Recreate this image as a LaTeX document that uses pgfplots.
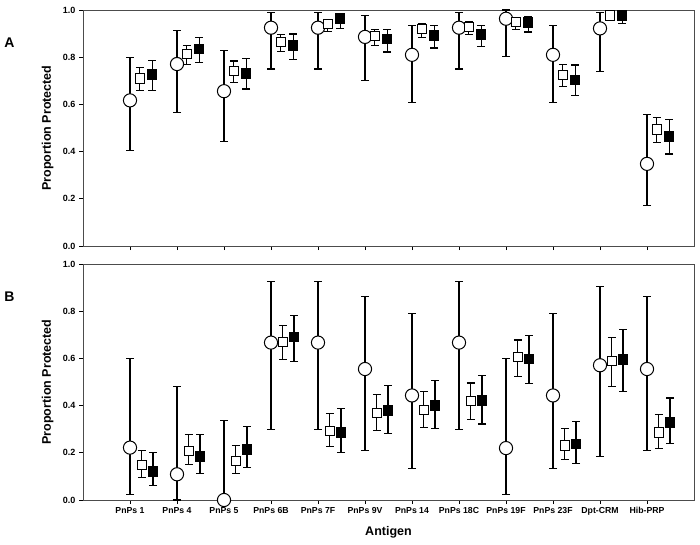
\documentclass[border=0pt]{standalone}
\usepackage{fontspec}
\setmainfont{Liberation Sans}
\usepackage{pgfplots}
\usepackage{pgfplotstable}
\pgfplotsset{compat=1.18}

% columns: i = category index, y = proportion, hi/lo = interval ends
\pgfplotstableread{
i y hi lo
0 0.617 0.799 0.406
1 0.771 0.912 0.564
2 0.656 0.829 0.443
3 0.925 0.991 0.750
4 0.925 0.991 0.750
5 0.886 0.976 0.700
6 0.810 0.936 0.607
7 0.925 0.991 0.750
8 0.963 1.000 0.803
9 0.810 0.936 0.607
10 0.922 0.991 0.741
11 0.348 0.557 0.173
}\Acirc
\pgfplotstableread{
i y hi lo
0 0.710 0.755 0.658
1 0.812 0.850 0.768
2 0.743 0.784 0.693
3 0.864 0.897 0.823
4 0.941 0.959 0.909
5 0.891 0.917 0.850
6 0.919 0.942 0.884
7 0.928 0.949 0.897
8 0.948 0.966 0.919
9 0.726 0.769 0.675
10 0.977 0.995 0.956
11 0.494 0.545 0.440
}\Aopen
\pgfplotstableread{
i y hi lo
0 0.726 0.786 0.658
1 0.834 0.884 0.777
2 0.731 0.793 0.665
3 0.850 0.898 0.792
4 0.963 0.980 0.921
5 0.877 0.917 0.822
6 0.893 0.934 0.839
7 0.897 0.935 0.846
8 0.948 0.973 0.907
9 0.704 0.767 0.636
10 0.976 0.990 0.942
11 0.464 0.537 0.390
}\Afill
\pgfplotstableread{
i y hi lo
0 0.222 0.599 0.025
1 0.109 0.482 0.000
2 0.000 0.336 0.000
3 0.667 0.926 0.297
4 0.667 0.926 0.297
5 0.555 0.864 0.210
6 0.443 0.789 0.133
7 0.667 0.926 0.297
8 0.220 0.599 0.024
9 0.443 0.789 0.133
10 0.571 0.904 0.183
11 0.555 0.864 0.210
}\Bcirc
\pgfplotstableread{
i y hi lo
0 0.147 0.210 0.096
1 0.208 0.278 0.149
2 0.166 0.231 0.112
3 0.670 0.741 0.596
4 0.292 0.367 0.225
5 0.370 0.448 0.296
6 0.382 0.460 0.307
7 0.418 0.496 0.341
8 0.605 0.678 0.525
9 0.231 0.303 0.170
10 0.588 0.687 0.482
11 0.286 0.361 0.218
}\Bopen
\pgfplotstableread{
i y hi lo
0 0.122 0.203 0.062
1 0.184 0.278 0.112
2 0.215 0.310 0.137
3 0.691 0.780 0.588
4 0.286 0.388 0.201
5 0.380 0.484 0.283
6 0.401 0.506 0.302
7 0.421 0.527 0.322
8 0.598 0.697 0.493
9 0.238 0.333 0.154
10 0.596 0.724 0.458
11 0.329 0.432 0.238
}\Bfill

\pgfplotsset{
  myaxis/.style={
    scale only axis, width=611pt, height=236pt,
    xmin=-1, xmax=12, ymin=0, ymax=1,
    xtick={0,...,11}, ytick={0,0.2,...,1.0},
    tick align=outside, tick pos=left, major tick length=4pt,
    axis line style={black!70, line width=0.8pt},
    tick style={black, line width=0.8pt},
    /pgf/number format/assume math mode=true,
    yticklabel style={font=\bfseries\fontsize{9}{10}\selectfont,
      /pgf/number format/.cd, fixed, fixed zerofill, precision=1},
    xticklabel style={font=\bfseries\fontsize{8.7}{10}\selectfont},
    ylabel={Proportion Protected},
    ylabel style={font=\bfseries\fontsize{12.5}{14}\selectfont,
      at={(axis description cs:-0.058,0.5)}, anchor=center},
    clip=false,
  },
  ebar/.style={error bars/.cd, y dir=both, y explicit,
    error bar style={line width=1.15pt, black},
    error mark options={rotate=90, mark size=4pt, line width=1.15pt, black}},
  circ/.style={only marks, mark=*, mark size=6.6pt,
    mark options={fill=white, draw=black, line width=1pt}, ebar},
  osq/.style={only marks, mark=square*, mark size=4.6pt,
    mark options={fill=white, draw=black, line width=1pt}, ebar},
  fsq/.style={only marks, mark=square*, mark size=4.8pt,
    mark options={fill=black, draw=black, line width=1pt}, ebar},
}

\begin{document}
\begin{tikzpicture}
\useasboundingbox (0,0) rectangle (700pt,544pt);

\begin{axis}[myaxis, at={(83pt,298pt)}, anchor=south west, xticklabels={}]
\addplot[circ] table[x=i, y=y, y error plus expr=\thisrow{hi}-\thisrow{y}, y error minus expr=\thisrow{y}-\thisrow{lo}] {\Acirc};
\addplot[osq] table[x expr=\thisrow{i}+0.21, y=y, y error plus expr=\thisrow{hi}-\thisrow{y}, y error minus expr=\thisrow{y}-\thisrow{lo}] {\Aopen};
\addplot[fsq] table[x expr=\thisrow{i}+0.47, y=y, y error plus expr=\thisrow{hi}-\thisrow{y}, y error minus expr=\thisrow{y}-\thisrow{lo}] {\Afill};
\end{axis}

\begin{axis}[myaxis, at={(83pt,44pt)}, anchor=south west,
  xticklabels={PnPs 1,PnPs 4,PnPs 5,PnPs 6B,PnPs 7F,PnPs 9V,PnPs 14,PnPs 18C,PnPs 19F,PnPs 23F,Dpt-CRM,Hib-PRP},
  xlabel={Antigen},
  xlabel style={font=\bfseries\fontsize{12.5}{14}\selectfont,
    at={(axis description cs:0.5,-0.135)}, anchor=center}]
\addplot[circ] table[x=i, y=y, y error plus expr=\thisrow{hi}-\thisrow{y}, y error minus expr=\thisrow{y}-\thisrow{lo}] {\Bcirc};
\addplot[osq] table[x expr=\thisrow{i}+0.25, y=y, y error plus expr=\thisrow{hi}-\thisrow{y}, y error minus expr=\thisrow{y}-\thisrow{lo}] {\Bopen};
\addplot[fsq] table[x expr=\thisrow{i}+0.49, y=y, y error plus expr=\thisrow{hi}-\thisrow{y}, y error minus expr=\thisrow{y}-\thisrow{lo}] {\Bfill};
\end{axis}

\node at (9.5pt,501pt) {\bfseries\fontsize{14}{16}\selectfont A};
\node at (9.5pt,247pt) {\bfseries\fontsize{14}{16}\selectfont B};
\end{tikzpicture}
\end{document}
